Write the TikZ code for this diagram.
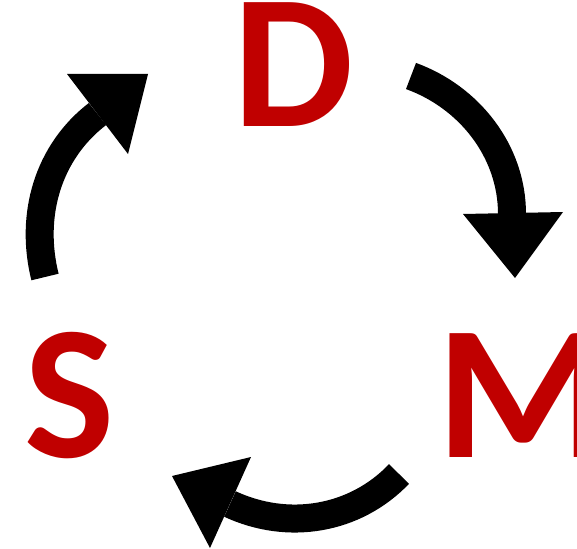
\documentclass[tikz,border=0pt]{standalone}
\usepackage{fontspec}
\setmainfont{Carlito}
\definecolor{letterred}{HTML}{C00000}
\tikzset{
  letter/.style={inner sep=0pt, outer sep=0pt, text=letterred, font=\fontsize{191}{191}\selectfont\bfseries},
  shaft/.style={line width=28pt, line cap=butt, draw=black},
  headtri/.style={fill=black, draw=none}
}
\begin{document}
\begin{tikzpicture}[x=1pt,y=-1pt]
\useasboundingbox (0,0) rectangle (577,548);
\fill[white] (0,0) rectangle (577,548);
\begin{scope}
\clip (0,0) rectangle (577,548);
\node[letter, anchor=base] (D) at (293.5,127) {D};
\node[letter, anchor=base west, xscale=1.04] (M) at (436,457) {M};
\node[letter, anchor=base] (S) at (70,457) {S};

% left arrow (S -> D)
\coordinate (a1s) at (45,277);
\coordinate (a1e) at (97.5,114);
\draw[shaft] (a1s) .. controls (29.5,215) and (48,152) .. (a1e);
\fill[headtri] (67,74) -- (148,74) -- (128,154) -- cycle;

% top-right arrow (D -> M)
\coordinate (a2s) at (411,76);
\coordinate (a2e) at (512,214);
\draw[shaft] (a2s) .. controls (469,97) and (512,151) .. (a2e);
\fill[headtri] (463,214) -- (563,212) -- (515,278) -- cycle;

% bottom arrow (M -> S)
\coordinate (a3s) at (399,474);
\coordinate (a3e) at (230,504);
\draw[shaft] (a3s) .. controls (355,520) and (288,531) .. (a3e);
\fill[headtri] (251,457) -- (210,548) -- (172,476) -- cycle;
\end{scope}
\end{tikzpicture}
\end{document}
